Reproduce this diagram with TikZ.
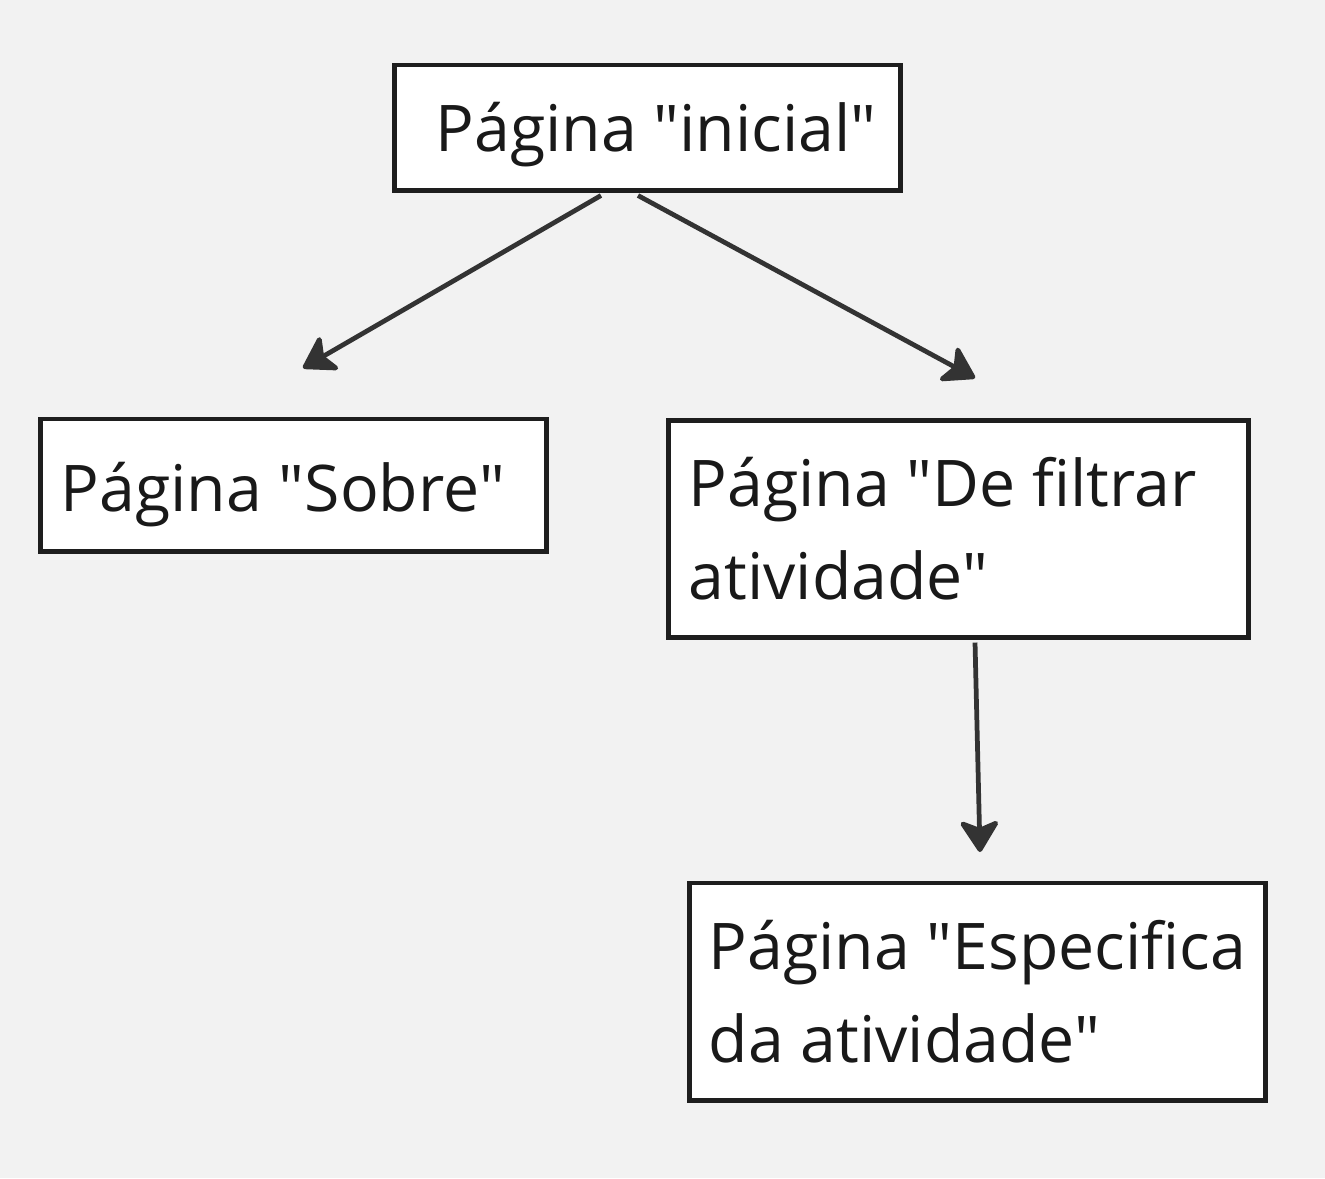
\documentclass[tikz,border=0pt]{standalone}
\usepackage{fontspec}
\setmainfont{Open Sans}
\usetikzlibrary{arrows.meta,positioning}
\definecolor{bgcol}{HTML}{F2F2F2}
\definecolor{linecol}{HTML}{333333}
\definecolor{boxline}{HTML}{1E1E1E}
\newcommand{\qq}{\textquotedbl}
\begin{document}
\begin{tikzpicture}[x=0.01cm,y=-0.01cm,
  page/.style={draw=boxline,line width=1.4pt,fill=white,inner xsep=0.2cm,inner ysep=0pt,
    align=flush left,font=\fontsize{18.3}{26.5}\selectfont,text=black!90},
  arr/.style={draw=linecol,line width=1.35pt,-{Stealth[length=10pt,width=12.5pt,inset=2.5pt,round]}}]
\useasboundingbox[fill=bgcol] (0,0) rectangle (1325,1178);
\node[page,minimum width=5.05cm,minimum height=1.25cm,align=center,text height=0.63cm,text depth=0.155cm] (ini) at (647.5,127.5) {\ Página \qq inicial\qq};
\node[page,minimum width=5.05cm,minimum height=1.32cm,text width=4.65cm,text height=0.69cm,text depth=0.155cm] (sobre) at (293.5,485) {Página \qq Sobre\qq};
\node[page,minimum width=5.79cm,minimum height=2.16cm,text width=5.39cm] (filtro) at (958.5,529) {Página \qq De filtrar\\atividade\qq};
\node[page,minimum width=5.75cm,minimum height=2.17cm,align=left,inner xsep=0.15cm] (espec) at (977.5,991.5) {Página \qq Especifica\\da atividade\qq};
\coordinate (tipA) at (303,368);
\coordinate (tipB) at (975,378);
\coordinate (tipC) at (980,852);
\draw[arr] ([xshift=-0.465cm,yshift=-0.03cm]ini.south)--(tipA);
\draw[arr] ([xshift=-0.095cm,yshift=-0.03cm]ini.south)--(tipB);
\draw[arr] ([xshift=0.165cm,yshift=-0.03cm]filtro.south)--(tipC);
\end{tikzpicture}
\end{document}
